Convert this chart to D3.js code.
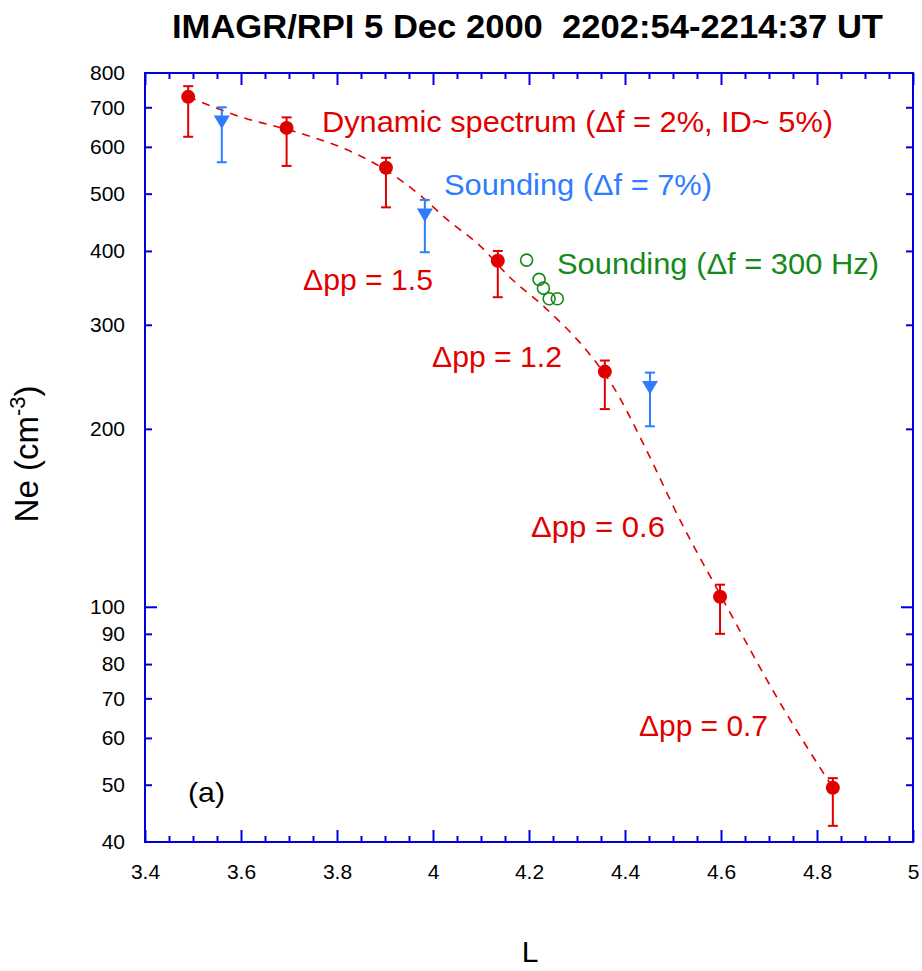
<!DOCTYPE html>
<html>
<head>
<meta charset="utf-8">
<script src="https://cdn.jsdelivr.net/npm/d3@7"></script>
<style>
  body { margin: 0; background: #fff; }
  text { font-family: "Liberation Sans", Arial, sans-serif; }
</style>
</head>
<body>
<div id="chart"></div>
<script>
// dynamic spectrum points (red)
const redL  = [3.49, 3.695, 3.902, 4.135, 4.358, 4.598, 4.833];
const redNe = [729, 646, 553, 385, 250, 104, 49.4];
const redHi = [760, 673, 575, 400, 261, 109, 51.3];
const redLo = [624, 557, 474, 334, 216, 90, 42.6];

// sounding df = 7% (blue)
const blueL  = [3.56, 3.983, 4.452];
const blueNe = [661, 460, 235];
const blueHi = [700, 488, 249];
const blueLo = [565, 398, 202];

// sounding df = 300 Hz (green)
const greenL  = [4.195, 4.221, 4.230, 4.242, 4.259];
const greenNe = [386, 358, 346, 332, 332];

// dashed fit curve
const fitL  = [3.49, 3.6, 3.717, 3.8375, 3.902, 3.973, 4.031, 4.098, 4.16, 4.233, 4.327, 4.375, 4.442, 4.515, 4.598, 4.723, 4.833];
const fitNe = [729, 674, 635, 585, 548, 497, 451, 408, 361, 321, 267, 236, 186, 140, 105, 68.8, 49.4];

const xTicks = [3.4, 3.6, 3.8, 4.0, 4.2, 4.4, 4.6, 4.8, 5.0];
const yTicks = [40, 50, 60, 70, 80, 90, 100, 200, 300, 400, 500, 600, 700, 800];

const width = 922, height = 971;
const axisCol = "#0000dd", red = "#e00000", blue = "#2f7dff", green = "#16891a";

const svg = d3.select("#chart").append("svg")
  .attr("width", width).attr("height", height);

const x = d3.scaleLinear().domain([3.4, 5]).range([145, 913]);
const y = d3.scaleLog().domain([40, 800]).range([842, 73]);

// frame
svg.append("rect")
  .attr("x", x(3.4)).attr("y", y(800))
  .attr("width", x(5) - x(3.4)).attr("height", y(40) - y(800))
  .attr("fill", "none").attr("stroke", axisCol).attr("stroke-width", 2);

const minorX = d3.range(3.4, 5.001, 0.05).filter(v => Math.abs(Math.round(v * 5) - v * 5) > 1e-6);
const minorY = yTicks.filter(v => v !== 100 && v !== 40 && v !== 800);

function ticks(axis, transform) {
  const g = svg.append("g").attr("transform", transform).call(axis);
  g.select(".domain").remove();
  g.selectAll("line").attr("stroke", axisCol).attr("stroke-width", 2);
  return g;
}

// bottom
const gx = ticks(d3.axisBottom(x).tickValues(xTicks).tickSize(-12).tickPadding(22)
  .tickFormat(d => d3.format("")(+d.toFixed(1))), `translate(0,${y(40)})`);
gx.selectAll("text").attr("font-size", 21).attr("fill", "#000")
  .attr("font-family", "Liberation Sans, Arial, sans-serif");
ticks(d3.axisBottom(x).tickValues(minorX).tickSize(-6).tickFormat(""), `translate(0,${y(40)})`);
// top
ticks(d3.axisTop(x).tickValues(xTicks).tickSize(-12).tickFormat(""), `translate(0,${y(800)})`);
ticks(d3.axisTop(x).tickValues(minorX).tickSize(-6).tickFormat(""), `translate(0,${y(800)})`);
// left
const gy = ticks(d3.axisLeft(y).tickValues(yTicks).tickSize(0).tickPadding(20)
  .tickFormat(d3.format("")), `translate(${x(3.4)},0)`);
gy.selectAll("text").attr("font-size", 21).attr("fill", "#000")
  .attr("font-family", "Liberation Sans, Arial, sans-serif");
ticks(d3.axisLeft(y).tickValues([100]).tickSize(-12).tickFormat(""), `translate(${x(3.4)},0)`);
ticks(d3.axisLeft(y).tickValues(minorY).tickSize(-7).tickFormat(""), `translate(${x(3.4)},0)`);
// right
ticks(d3.axisRight(y).tickValues([100]).tickSize(-12).tickFormat(""), `translate(${x(5)},0)`);
ticks(d3.axisRight(y).tickValues(minorY).tickSize(-7).tickFormat(""), `translate(${x(5)},0)`);

// dashed fit
const fit = fitL.map((l, i) => [l, fitNe[i]]);
svg.append("path")
  .attr("d", d3.line().x(d => x(d[0])).y(d => y(d[1])).curve(d3.curveMonotoneX)(fit))
  .attr("fill", "none").attr("stroke", red).attr("stroke-width", 1.6)
  .attr("stroke-dasharray", "8,7");

function errorBars(L, hi, lo, col) {
  const g = svg.append("g").attr("stroke", col).attr("stroke-width", 2);
  L.forEach((l, i) => {
    g.append("line").attr("x1", x(l)).attr("x2", x(l)).attr("y1", y(hi[i])).attr("y2", y(lo[i]));
    [hi[i], lo[i]].forEach(v => g.append("line")
      .attr("x1", x(l) - 5).attr("x2", x(l) + 5).attr("y1", y(v)).attr("y2", y(v)));
  });
}

errorBars(redL, redHi, redLo, red);
errorBars(blueL, blueHi, blueLo, blue);

// red filled circles
svg.append("g").selectAll("circle").data(redL).join("circle")
  .attr("cx", d => x(d)).attr("cy", (d, i) => y(redNe[i])).attr("r", 7)
  .attr("fill", red);

// blue down triangles
svg.append("g").selectAll("path").data(blueL).join("path")
  .attr("transform", (d, i) => `translate(${x(d)},${y(blueNe[i])})`)
  .attr("d", "M-8,-6.5 L8,-6.5 L0,7 Z")
  .attr("fill", blue);

// green open circles
svg.append("g").selectAll("circle").data(greenL).join("circle")
  .attr("cx", d => x(d)).attr("cy", (d, i) => y(greenNe[i])).attr("r", 6)
  .attr("fill", "none").attr("stroke", green).attr("stroke-width", 1.6);

// annotations
function label(txt, x0, x1, base, col, size) {
  svg.append("text").attr("x", x0).attr("y", base)
    .attr("font-size", size).attr("fill", col)
    .attr("textLength", x1 - x0).attr("lengthAdjust", "spacingAndGlyphs")
    .text(txt);
}
label("Dynamic spectrum (\u0394f = 2%, ID~ 5%)", 322, 833, 132, red, 30);
label("Sounding (\u0394f = 7%)", 444, 712, 195, blue, 30);
label("Sounding (\u0394f = 300 Hz)", 557, 879, 274, green, 30);
label("\u0394pp = 1.5", 303, 433, 290, red, 30);
label("\u0394pp = 1.2", 432, 562, 367, red, 30);
label("\u0394pp = 0.6", 531, 665, 537, red, 30);
label("\u0394pp = 0.7", 639, 768, 736, red, 30);
label("(a)", 188, 225, 802, "#000", 28);

// title
svg.append("text").attr("x", 172).attr("y", 38)
  .attr("font-size", 34).attr("font-weight", "bold")
  .attr("textLength", 711).attr("lengthAdjust", "spacingAndGlyphs")
  .style("white-space", "pre")
  .text("IMAGR/RPI 5 Dec 2000  2202:54-2214:37 UT");

// axis titles
svg.append("text").attr("x", 530).attr("y", 962)
  .attr("text-anchor", "middle").attr("font-size", 30).text("L");

const yt = svg.append("text")
  .attr("transform", "translate(38,454) rotate(-90)")
  .attr("text-anchor", "middle").attr("font-size", 33);
yt.append("tspan").text("Ne (cm");
yt.append("tspan").attr("font-size", 22).attr("dy", -13).text("-3");
yt.append("tspan").attr("dy", 13).text(")");
</script>
</body>
</html>
